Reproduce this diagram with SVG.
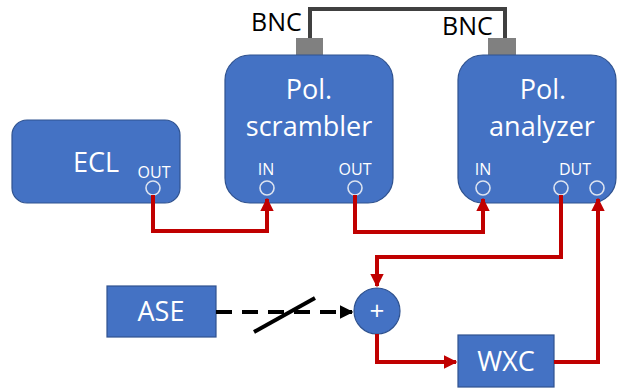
<svg xmlns="http://www.w3.org/2000/svg" width="617" height="390" viewBox="0 0 617 390">
  <style>
    .box { fill: #4472C4; stroke: #2F528F; stroke-width: 1.2; }
    .port { fill: #4472C4; stroke: #DCE3F0; stroke-width: 1.6; }
    .t { font-family: "Open Sans", "Liberation Sans", sans-serif; fill: #FFFFFF; text-anchor: middle; }
    .big { font-size: 27px; }
    .small { font-size: 16px; }
    .bnc { font-family: "Open Sans", "Liberation Sans", sans-serif; font-size: 25px; fill: #000000; }
    .red { fill: none; stroke: #C00000; stroke-width: 4; }
  </style>
  <defs>
    <marker id="arrowRed" viewBox="0 0 10 10" refX="9" refY="5" markerWidth="3.4" markerHeight="3.4" orient="auto" markerUnits="strokeWidth">
      <path d="M0,0 L10,5 L0,10 Z" fill="#C00000"/>
    </marker>
    <marker id="arrowBlack" viewBox="0 0 10 10" refX="9" refY="5" markerWidth="3.4" markerHeight="3.4" orient="auto" markerUnits="strokeWidth">
      <path d="M0,0 L10,5 L0,10 Z" fill="#000000"/>
    </marker>
  </defs>

  <!-- BNC cable between the two instruments -->
  <g id="bnc-cable">
    <path d="M310,38 V9 H505 V38" fill="none" stroke="#404040" stroke-width="4"/>
    <rect x="296" y="38" width="27" height="17" fill="#808080"/>
    <rect x="488" y="38" width="28" height="17" fill="#808080"/>
    <text class="bnc" x="251" y="31">BNC</text>
    <text class="bnc" x="442" y="35">BNC</text>
  </g>

  <g id="ecl">
    <rect class="box" x="12" y="120" width="168" height="83" rx="15"/>
    <text class="t big" x="96" y="172">ECL</text>
    <text class="t small" x="154" y="178">OUT</text>
    <circle class="port" cx="153" cy="188" r="7"/>
  </g>

  <g id="scrambler">
    <rect class="box" x="225" y="55" width="168" height="148" rx="25"/>
    <text class="t big" x="309" y="99">Pol.</text>
    <text class="t big" x="309" y="136">scrambler</text>
    <text class="t small" x="266" y="175">IN</text>
    <circle class="port" cx="267" cy="188" r="7"/>
    <text class="t small" x="355" y="175">OUT</text>
    <circle class="port" cx="355" cy="188" r="7"/>
  </g>

  <g id="analyzer">
    <rect class="box" x="458" y="55" width="158" height="148" rx="25"/>
    <text class="t big" x="543" y="99">Pol.</text>
    <text class="t big" x="542" y="136">analyzer</text>
    <text class="t small" x="483" y="175">IN</text>
    <circle class="port" cx="483" cy="188" r="7"/>
    <text class="t small" x="575" y="175">DUT</text>
    <circle class="port" cx="561" cy="188" r="7"/>
    <circle class="port" cx="597" cy="188" r="7"/>
  </g>

  <g id="ase">
    <rect class="box" x="107" y="286" width="109" height="51"/>
    <text class="t big" x="161" y="321">ASE</text>
  </g>

  <g id="combiner">
    <circle class="box" cx="377" cy="311" r="23"/>
    <text class="t" x="377" y="320" font-size="26">+</text>
  </g>

  <g id="wxc">
    <rect class="box" x="458" y="335" width="96" height="52"/>
    <text class="t big" x="506" y="371">WXC</text>
  </g>

  <!-- connectors -->
  <g id="connectors">
    <path class="red" d="M153,195 V231 H267 V199" marker-end="url(#arrowRed)"/>
    <path class="red" d="M355,195 V232 H483 V199" marker-end="url(#arrowRed)"/>
    <path class="red" d="M561,195 V257 H377 V286" marker-end="url(#arrowRed)"/>
    <path class="red" d="M377,334 V362 H456" marker-end="url(#arrowRed)"/>
    <path class="red" d="M554,362 H598 V199" marker-end="url(#arrowRed)"/>
    <path d="M216,312 H352" fill="none" stroke="#000000" stroke-width="4" stroke-dasharray="16,10" marker-end="url(#arrowBlack)"/>
    <line x1="254" y1="332" x2="315" y2="298" stroke="#000000" stroke-width="4"/>
  </g>
</svg>
